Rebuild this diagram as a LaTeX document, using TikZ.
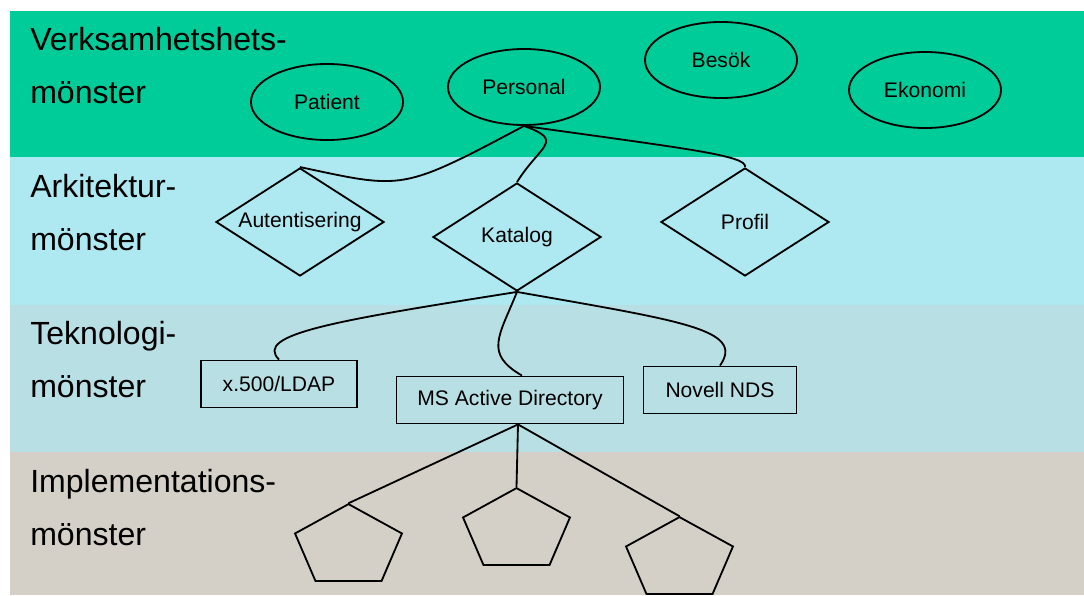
\documentclass[tikz,border=0pt]{standalone}
\usepackage{fontspec}
\setmainfont{Liberation Sans}
\usetikzlibrary{shapes.geometric,calc}
\definecolor{bandbiz}{RGB}{0,204,153}
\definecolor{bandarch}{RGB}{174,232,240}
\definecolor{bandtech}{RGB}{184,223,227}
\definecolor{bandimpl}{RGB}{212,208,200}
\tikzset{
  layerlabel/.style={anchor=base west,inner sep=0pt,font=\fontsize{22.8}{27}\selectfont},
  basenode/.style={draw=black,line width=1.3pt,font=\fontsize{15}{18}\selectfont,inner sep=0pt},
  bizellipse/.style={basenode,ellipse,minimum width=3.8cm,minimum height=1.9cm},
  archdiamond/.style={basenode,diamond,shape aspect=1.55,minimum width=4.2cm,minimum height=2.7cm},
  techbox/.style={basenode,rectangle,minimum height=1.175cm},
  implpenta/.style={basenode,regular polygon,regular polygon sides=5,minimum size=2.81cm,yscale=0.756,transform shape},
  link/.style={draw=black,line width=1.3pt}
}

\begin{document}
\begin{tikzpicture}[x=0.025cm,y=0.025cm]
  \useasboundingbox (0,0) rectangle (1084,595);
  % layer bands
  \fill[bandbiz]  (10,438) rectangle (1084,584);
  \fill[bandarch] (10,290) rectangle (1084,438);
  \fill[bandtech] (10,143) rectangle (1084,290);
  \fill[bandimpl] (10,0)   rectangle (1084,143);

  % layer names
  \node[layerlabel] (lbizA)  at (30,545) {Verksamhetshets-};
  \node[layerlabel] (lbizB)  at (30,492) {mönster};
  \node[layerlabel] (larchA) at (30,398) {Arkitektur-};
  \node[layerlabel] (larchB) at (30,345) {mönster};
  \node[layerlabel] (ltechA) at (30,251) {Teknologi-};
  \node[layerlabel] (ltechB) at (30,198) {mönster};
  \node[layerlabel] (limplA) at (30,103) {Implementations-};
  \node[layerlabel] (limplB) at (30,50)  {mönster};

  % business patterns
  \node[bizellipse] (patient)  at (327,493) {Patient};
  \node[bizellipse] (personal) at (524,508) {Personal};
  \node[bizellipse] (besok)    at (721,535) {Besök};
  \node[bizellipse] (ekonomi)  at (925,505) {Ekonomi};

  % architecture patterns
  \node[archdiamond] (auth)    at (300,373) {Autentisering};
  \node[archdiamond] (katalog) at (517,358) {Katalog};
  \node[archdiamond] (profil)  at (745,373) {Profil};

  % technology patterns
  \node[techbox,minimum width=3.9cm]   (ldap)   at (279,211) {x.500/LDAP};
  \node[techbox,minimum width=5.675cm] (msad)   at (510,195) {MS Active Directory};
  \node[techbox,minimum width=3.825cm] (novell) at (720,205) {Novell NDS};

  % implementation patterns
  \node[implpenta] (implA) at (348.5,48.4) {};
  \node[implpenta] (implB) at (516.5,64.4) {};
  \node[implpenta] (implC) at (679.5,35.4) {};

  \coordinate (adtop)  at ($(msad.north)+(12,0)$);
  \coordinate (adfoot) at ($(msad.south)+(8,0)$);

  \draw[link] (personal.south) to[out=208,in=-12,out distance=3.5cm,in distance=2.65cm] (auth.north);
  \draw[link] (personal.south) to[out=-20,in=58,distance=1.1cm] (katalog.north);
  \draw[link] (personal.south) to[out=-8,in=75,out distance=4cm,in distance=0.3cm] (profil.north);

  \draw[link] (katalog.south) to[out=189,in=135,out distance=4.6cm,in distance=0.9cm] (ldap.north);
  \draw[link] (katalog.south) to[out=248,in=150,out distance=1.2cm,in distance=1.1cm] (adtop);
  \draw[link] (katalog.south) to[out=-10,in=55,out distance=4.2cm,in distance=1.1cm] (novell.north);

  \draw[link] (adfoot) -- (implA.corner 1);
  \draw[link] (adfoot) -- (implB.corner 1);
  \draw[link] (adfoot) -- (implC.corner 1);
\end{tikzpicture}
\end{document}
